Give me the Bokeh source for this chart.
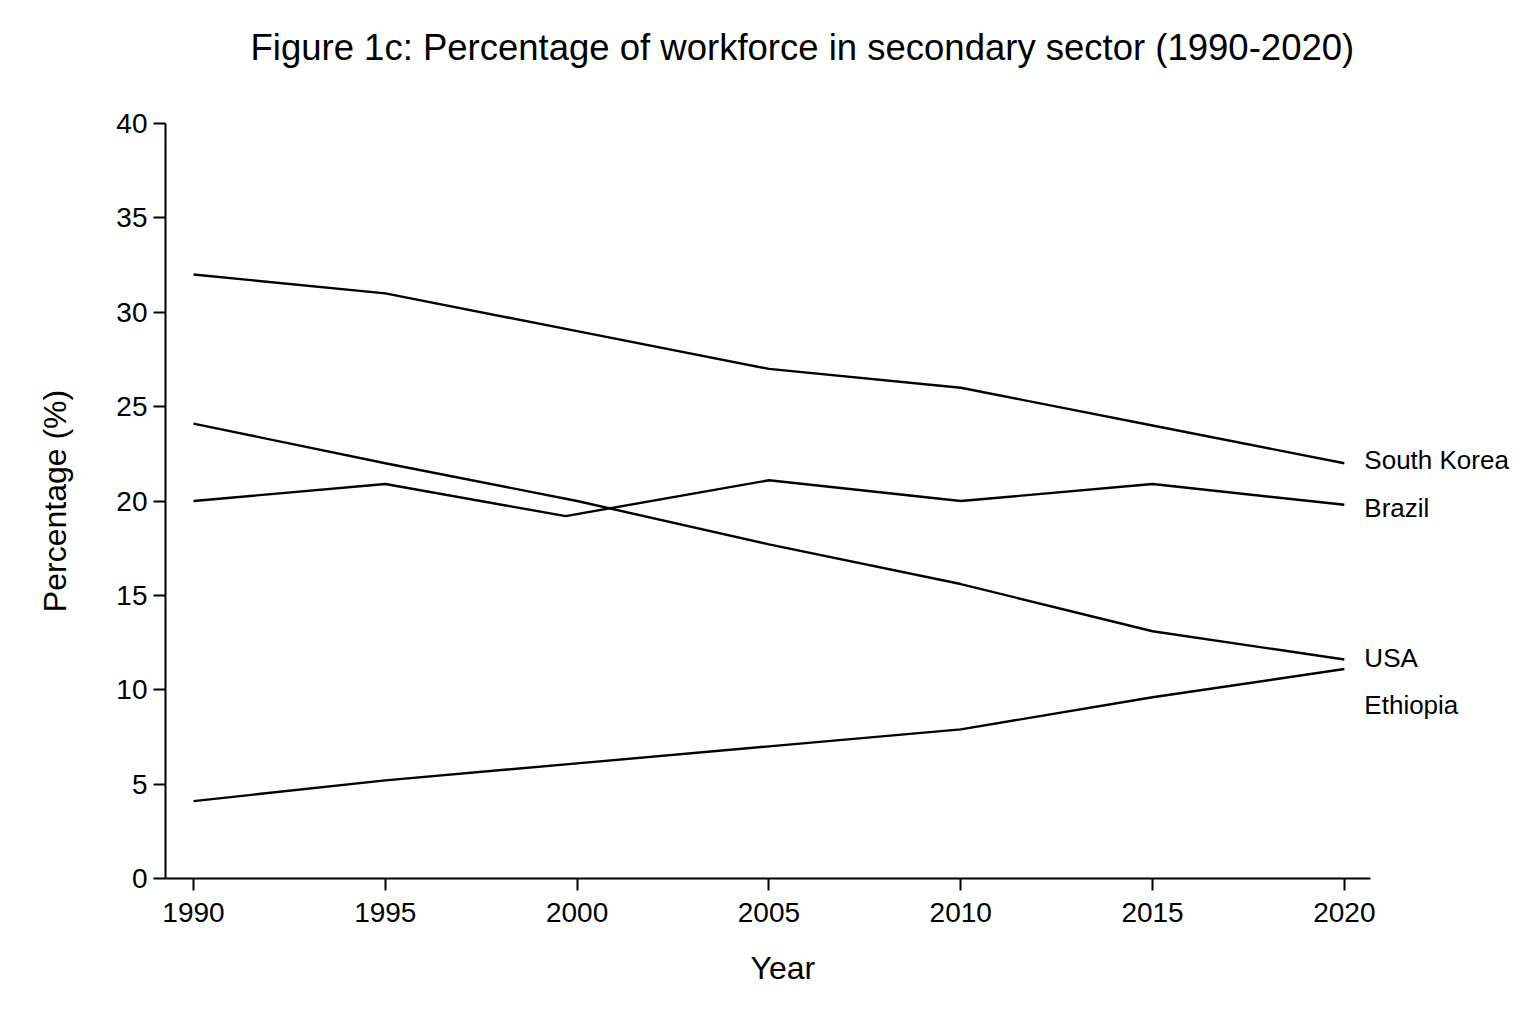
from bokeh.plotting import figure
from bokeh.models import Range1d, FixedTicker, Label, Title
from bokeh.embed import file_html
from bokeh.resources import INLINE

# data
years = [1990, 1995, 2000, 2005, 2010, 2015, 2020]
south_korea = [32.0, 31.0, 29.0, 27.0, 26.0, 24.0, 22.0]
brazil = [20.0, 20.9, 19.2, 21.1, 20.0, 20.9, 19.8]
usa = [24.1, 22.0, 20.0, 17.7, 15.6, 13.1, 11.6]
ethiopia = [4.1, 5.2, 6.1, 7.0, 7.9, 9.6, 11.1]
brazil_years = [1990, 1995, 1999.7, 2005, 2010, 2015, 2020]

series_names = ["South Korea", "Brazil", "USA", "Ethiopia"]
y_ticks = [0, 5, 10, 15, 20, 25, 30, 35, 40]

FONT = "Liberation Sans"

p = figure(width=1528, height=1024, output_backend="svg", toolbar_location=None,
           title_location=None,
           x_range=Range1d(1989.27, 2024.8), y_range=Range1d(0, 40),
           min_border_left=165, min_border_right=0, min_border_top=123,
           min_border_bottom=146)

p.background_fill_color = "white"
p.border_fill_color = "white"
p.outline_line_color = None
p.grid.visible = False

# gap between the title and the frame, then the title itself
p.add_layout(Title(text=" ", text_font_size="1px", standoff=29), "above")
p.add_layout(Title(text="Figure 1c: Percentage of workforce in secondary sector (1990-2020)",
                   align="left", offset=85, standoff=47,
                   text_font=FONT, text_font_size="36.5px", text_font_style="normal",
                   text_color="black"), "above")

for ax in (p.xaxis[0], p.yaxis[0]):
    ax.axis_line_width = 2
    ax.axis_line_color = "black"
    ax.major_tick_line_width = 2
    ax.major_tick_out = 12
    ax.major_tick_in = 0
    ax.minor_tick_line_color = None
    ax.major_label_text_font = FONT
    ax.major_label_text_font_size = "28px"
    ax.major_label_text_color = "black"
    ax.axis_label_text_font = FONT
    ax.axis_label_text_font_size = "32px"
    ax.axis_label_text_font_style = "normal"
    ax.axis_label_text_color = "black"

p.xaxis.ticker = FixedTicker(ticks=years)
p.xaxis.bounds = (1989.27, 2020.68)
p.xaxis.major_label_standoff = 12
p.yaxis.ticker = FixedTicker(ticks=y_ticks)
p.yaxis.axis_label = "Percentage (%)"
p.yaxis.major_label_standoff = 6
p.yaxis.axis_label_standoff = 40

# x-axis title placed as a below-title so it can sit off the frame centre
p.add_layout(Title(text="Year", align="left", offset=585, standoff=46,
                   text_font=FONT, text_font_size="32px", text_font_style="normal",
                   text_color="black"), "below")

p.line(years, south_korea, line_color="black", line_width=2.4)
p.line(brazil_years, brazil, line_color="black", line_width=2.4)
p.line(years, usa, line_color="black", line_width=2.4)
p.line(years, ethiopia, line_color="black", line_width=2.4)

# end-of-line labels
last_values = [south_korea[-1], brazil[-1], usa[-1], ethiopia[-1]]
nudges = [3, -3, 2, -36]
for name, val, dy in zip(series_names, last_values, nudges):
    p.add_layout(Label(x=years[-1], y=val, text=name, x_offset=20, y_offset=dy,
                       text_font=FONT, text_font_size="26px",
                       text_baseline="middle", text_color="black"))

open("out.html", "w").write(file_html(p, INLINE))
